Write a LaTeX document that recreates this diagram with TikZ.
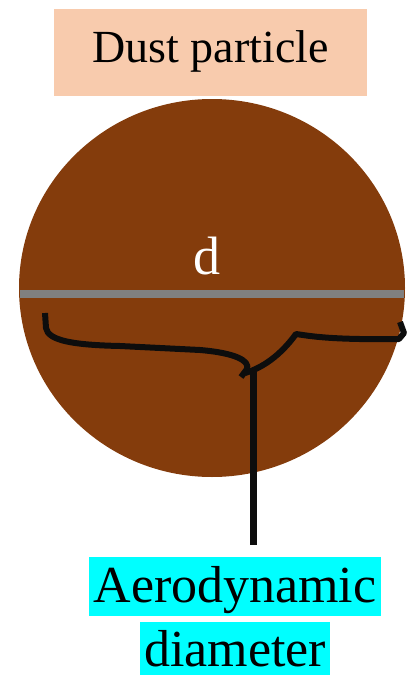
\documentclass[tikz,border=0pt]{standalone}
\usepackage{fontspec}
\setmainfont{Liberation Serif}
\usepackage{tikz}
\usetikzlibrary{calc,positioning,shapes.geometric}
\definecolor{peach}{HTML}{F8CBAD}
\definecolor{dustbrown}{HTML}{843C0C}
\definecolor{lineblack}{HTML}{0D0D0D}
\definecolor{aqua}{HTML}{00FFFF}
\tikzset{
	titlebox/.style={fill=peach,inner sep=0pt,minimum width=313pt,minimum height=87pt,
		text height=32pt,text depth=12pt,font=\fontsize{46}{50}\selectfont},
	labelbox/.style={fill=aqua,inner ysep=0pt,inner xsep=4pt,font=\fontsize{52}{56}\selectfont},
	particle/.style={ellipse,fill=dustbrown,inner sep=0pt,minimum width=386pt,minimum height=378pt},
	braceline/.style={draw=lineblack,line width=6pt,line join=round}
}

\begin{document}
\begin{tikzpicture}[x=1pt,y=-1pt,
			diamline/.style={draw=black!50,line width=8pt}]
			\useasboundingbox (0,0) rectangle (411,677);
			\node[titlebox] (title) at (210.5,52.5) {Dust particle};
			\node[particle] (dust) at (212,288) {};
			\draw[diamline] (20,294) -- (404,294);
			\node[text=white,font=\fontsize{54}{58}\selectfont] (dlab) at (207,256) {d};
			\node[labelbox,text height=46pt,text depth=13pt] (aero) at (235,586) {Aerodynamic};
			\node[labelbox,text height=45pt,text depth=8pt,below=6pt of aero] (diam) {diameter};
			% brace under the diameter
			\coordinate (tip) at (253,371);
			\draw[braceline] (45,313) -- (46,328) .. controls (48,341) and (75,345) .. (120,346)
				-- (200,350) .. controls (236,353) and (250,361) .. (247,369) -- (241,377);
			\draw[braceline] (245,373) .. controls (262,368) and (280,356) .. (296,334)
				.. controls (310,336) and (330,340) .. (399,339) -- (404,333) -- (400,322);
			\draw[braceline,line width=7pt,shorten >=11pt] (tip) -- (tip |- aero.north);
		\end{tikzpicture}
\end{document}
